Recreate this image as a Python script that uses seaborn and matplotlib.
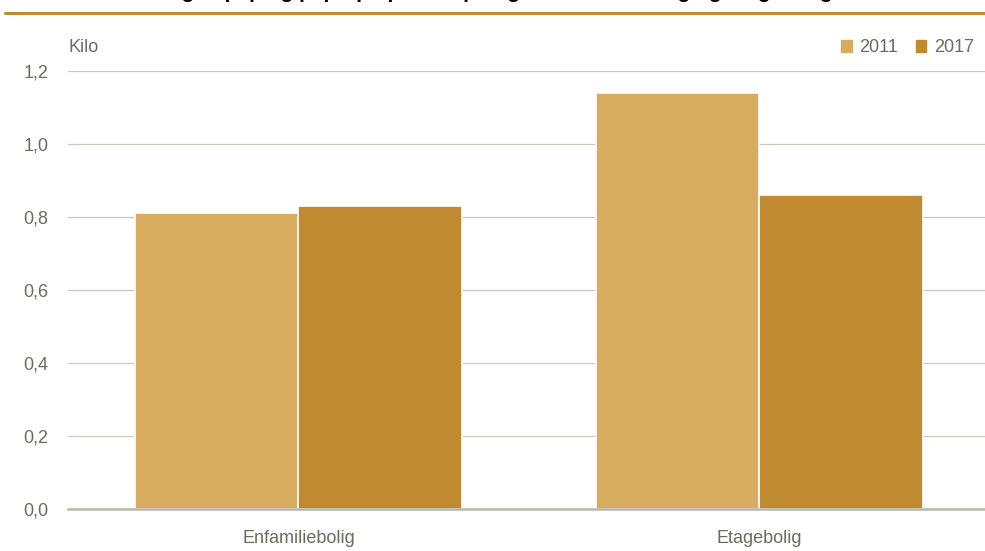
import pandas as pd
import matplotlib.pyplot as plt
import seaborn as sns
from matplotlib.lines import Line2D
from matplotlib.patches import Patch
from matplotlib.ticker import FuncFormatter

# data
categories = ["Enfamiliebolig", "Etagebolig"]
years = ["2011", "2017"]
values_2011 = [0.81, 1.14]
values_2017 = [0.83, 0.86]
title = "Mængde pap og papir pr. person pr. uge i enfamiliebolig og etagebolig"

colors = {"2011": "#D8AC5F", "2017": "#C08A30"}
text_col = "#6B6B5E"
grid_col = "#C9C9BB"

df = pd.DataFrame({
    "bolig": categories * 2,
    "aar": [years[0]] * 2 + [years[1]] * 2,
    "kilo": values_2011 + values_2017,
})

sns.set_theme(style="white")
plt.rcParams['font.family'] = ['Liberation Sans Narrow', 'Liberation Sans', 'DejaVu Sans']

fig = plt.figure(figsize=(9.85, 5.51), dpi=100)
ax = fig.add_axes([68 / 985, 42 / 551, 1 - 68 / 985, 438 / 551])

sns.barplot(data=df, x="bolig", y="kilo", hue="aar", palette=colors,
            saturation=1, width=0.71, gap=0, edgecolor="white", linewidth=1.2,
            legend=False, ax=ax)

ax.set_ylim(0, 1.2)
ax.set_xlim(-0.5, 1.49)
ax.set_yticks([0, 0.2, 0.4, 0.6, 0.8, 1.0, 1.2])
ax.yaxis.set_major_formatter(FuncFormatter(lambda v, p: f"{v:.1f}".replace(".", ",")))
ax.grid(axis="y", color=grid_col, linewidth=0.9)
ax.set_axisbelow(True)
for s in ["top", "right", "left"]:
    ax.spines[s].set_visible(False)
ax.spines["bottom"].set_color("#B8B8A8")
ax.spines["bottom"].set_linewidth(1.8)
ax.set_xlabel("")
ax.set_ylabel("")
ax.tick_params(axis="both", length=0, labelsize=13, colors=text_col, pad=14)
ax.tick_params(axis="x", pad=15)

fig.text(68 / 985, 1 - 48 / 551, "Kilo", fontsize=13, color=text_col, va="center", ha="left")

handles = [Patch(color=colors[y], label=y) for y in years]
fig.legend(handles=handles, loc="center right", bbox_to_anchor=(1.005, 1 - 48 / 551),
           ncol=2, frameon=False, fontsize=13, handlelength=0.6, handleheight=0.6,
           handletextpad=0.4, columnspacing=1.0, labelcolor=text_col)

# title is cut off at the top in the source image; only descenders show
fig.text(0.49, 1 + 2.5 / 551, title, fontsize=15, fontweight="bold", color="black",
         ha="center", va="baseline", family=['Liberation Sans', 'DejaVu Sans'])
fig.add_artist(Line2D([5 / 985, 1], [1 - 12.5 / 551, 1 - 12.5 / 551],
                      color="#C08A30", linewidth=2.2))

fig.savefig("out.png", dpi=100)
